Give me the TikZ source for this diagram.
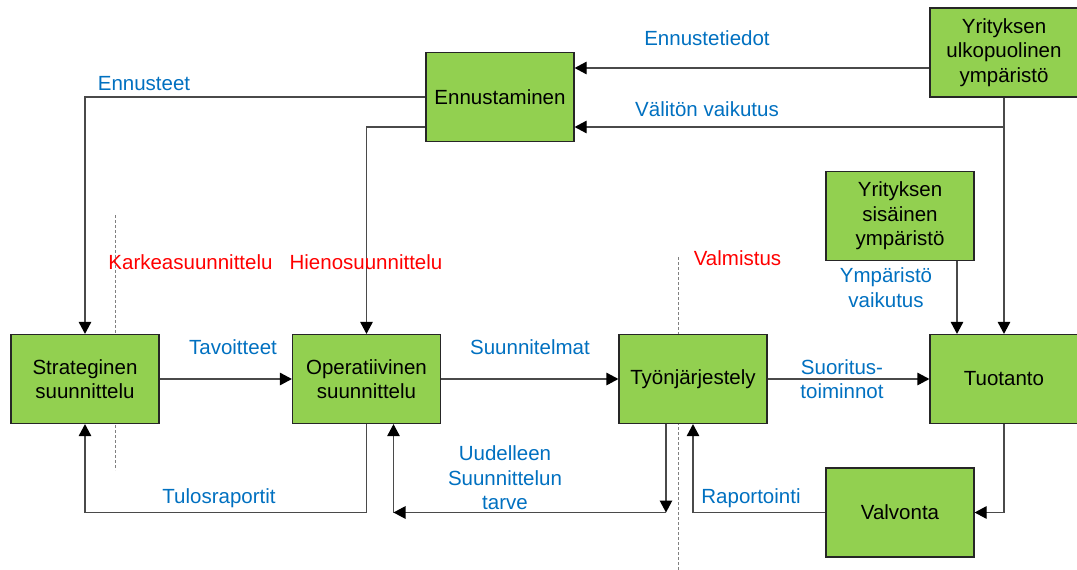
\documentclass[tikz,border=0pt]{standalone}
\usepackage{fontspec}
\setmainfont{Liberation Sans}
\usetikzlibrary{arrows.meta}
\definecolor{boxgreen}{HTML}{92D050}
\definecolor{lblblue}{HTML}{0070C0}
\definecolor{lblred}{HTML}{FF0000}
\definecolor{linegray}{HTML}{4A4A4A}
\begin{document}
\begin{tikzpicture}[x=1pt,y=-1pt,
  every node/.style={font=\fontsize{20.5}{24.5}\selectfont},
  block/.style={draw=black!85, line width=1.2pt, fill=boxgreen, minimum width=148pt,
    minimum height=89pt, inner sep=0pt, align=center},
  flow/.style={draw=linegray, line width=1.2pt,
    -{Triangle[length=12pt,width=12.5pt,color=black]}},
  bluelbl/.style={text=lblblue, align=center, inner sep=0pt},
  redlbl/.style={text=lblred, inner sep=0pt},
  divider/.style={draw=gray, line width=1pt, dash pattern=on 3pt off 2pt}]
\useasboundingbox (0,0) rectangle (1077,570);

% phase dividers
\draw[divider] (115,215) -- (115,470);
\draw[divider] (678,257) -- (678,570);

% blocks
\node[block] (strat) at (85,379) {Strateginen\\suunnittelu};
\node[block] (oper) at (366.5,379) {Operatiivinen\\suunnittelu};
\node[block] (tyo) at (693,379) {Työnjärjestely};
\node[block] (tuot) at (1004,379) {Tuotanto};
\node[block] (sis) at (900,216) {Yrityksen\\sisäinen\\ympäristö};
\node[block] (valv) at (900,512.5) {Valvonta};
\node[block] (enn) at (500,97) {Ennustaminen};
\node[block] (ulko) at (1004,52.5) {Yrityksen\\ulkopuolinen\\ympäristö};

% helper points
\coordinate (u1) at ([yshift=-15.5pt]ulko.west);
\coordinate (vj) at (ulko.south |- 0,127);
\coordinate (e2) at ([yshift=-30pt]enn.west);
\coordinate (s1) at ([xshift=57pt]sis.south);
\coordinate (t1) at ([xshift=-27pt]tyo.south);
\coordinate (t2) at (t1 |- valv.west);
\coordinate (o1) at ([xshift=27pt]oper.south);
\coordinate (o2) at (o1 |- t2);
\coordinate (r1) at (oper.south |- t2);

% connectors
\draw[flow] (u1) -- (u1 -| enn.east);
\draw[flow] (vj) -- (vj -| enn.east);
\draw[flow] (ulko.south) -- (tuot.north);
\draw[flow] (enn.west) -| (strat.north);
\draw[flow] (e2) -| (oper.north);
\draw[flow] (strat.east) -- (oper.west);
\draw[flow] (oper.east) -- (tyo.west);
\draw[flow] (tyo.east) -- (tuot.west);
\draw[flow] (s1) -- (s1 |- tuot.north);
\draw[flow] (tuot.south) |- (valv.east);
\draw[flow] (valv.west) -| (tyo.south);
\draw[flow] (t1) -- (t2);
\draw[flow] (t2) -- (o2);
\draw[flow] (o2) -- (o1);
\draw[flow] (oper.south) -- (r1) -| (strat.south);

% connector labels
\node[bluelbl] (lEt) at (707,38) {Ennustetiedot};
\node[bluelbl] (lVv) at (707,109) {Välitön vaikutus};
\node[bluelbl] (lEn) at (144,84) {Ennusteet};
\node[bluelbl] (lTa) at (233,347) {Tavoitteet};
\node[bluelbl] (lSu) at (530,347) {Suunnitelmat};
\node[bluelbl] (lSt) at (842,379) {Suoritus-\\toiminnot};
\node[bluelbl] (lYv) at (886,287.5) {Ympäristö\\vaikutus};
\node[bluelbl] (lUs) at (505,478) {Uudelleen\\Suunnittelun\\tarve};
\node[bluelbl] (lTu) at (219,498) {Tulosraportit};
\node[bluelbl] (lRa) at (751,498) {Raportointi};

% phase labels
\node[redlbl] (pK) at (190.5,262) {Karkeasuunnittelu};
\node[redlbl] (pH) at (366,262) {Hienosuunnittelu};
\node[redlbl] (pV) at (737.5,258) {Valmistus};
\end{tikzpicture}
\end{document}
